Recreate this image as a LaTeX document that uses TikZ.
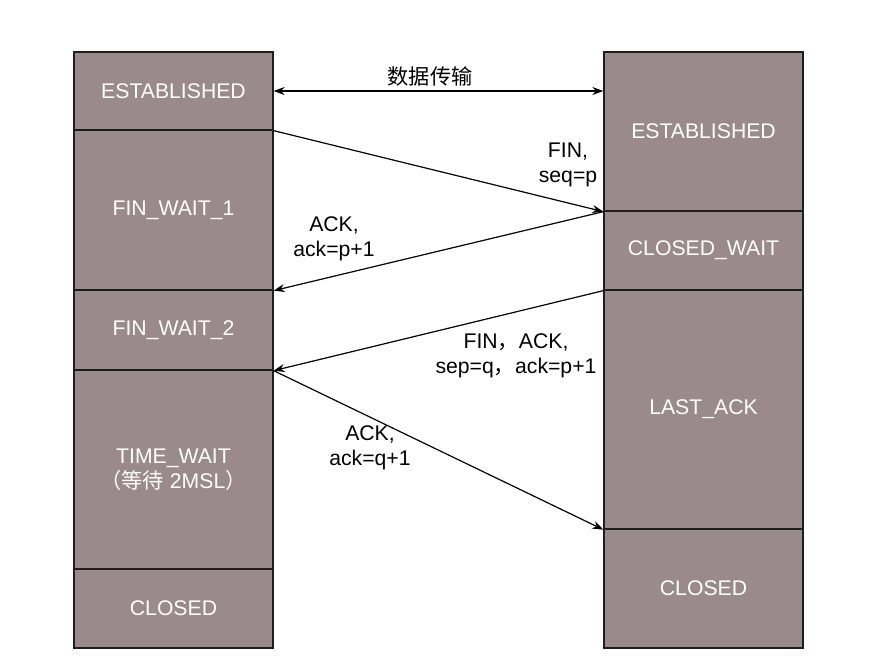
\documentclass[tikz,border=0pt]{standalone}
\usepackage{fontspec}
\setmainfont{Liberation Sans}
\newfontfamily\cjk{Noto Sans CJK SC}
\usetikzlibrary{arrows.meta}
\definecolor{boxfill}{RGB}{154,138,142}
\definecolor{boxline}{RGB}{30,30,30}
\tikzset{
  statebox/.style={draw=boxline, line width=1.3pt, fill=boxfill, text=white,
    minimum width=199pt, inner sep=0pt, align=center,
    font=\fontsize{21.2}{25}\selectfont},
  msg/.style={draw=black, line width=1.2pt, -{Stealth[length=11pt,width=8pt]}},
  lbl/.style={align=center, inner sep=0pt, font=\fontsize{21.2}{25}\selectfont}
}
\begin{document}
\begin{tikzpicture}[x=1pt,y=-1pt]
\useasboundingbox (0,0) rectangle (880,664);
% left column
\node[statebox, minimum height=78pt]  (lE)  at (173.5,91)    {ESTABLISHED};
\node[statebox, minimum height=160pt] (lF1) at (173.5,210)   {FIN\_WAIT\_1};
\node[statebox, minimum height=80pt]  (lF2) at (173.5,330)   {FIN\_WAIT\_2};
\node[statebox, minimum height=199pt] (lTW) at (173.5,469.5) {TIME\_WAIT\\{\cjk （等待} 2MSL{\cjk ）}};
\node[statebox, minimum height=79pt]  (lC)  at (173.5,608.5) {CLOSED};
% right column
\node[statebox, minimum height=159pt] (rE)  at (703.5,131.5) {ESTABLISHED};
\node[statebox, minimum height=79pt]  (rCW) at (703.5,250.5) {CLOSED\_WAIT};
\node[statebox, minimum height=239pt] (rLA) at (703.5,409.5) {LAST\_ACK};
\node[statebox, minimum height=119pt] (rC)  at (703.5,588.5) {CLOSED};
% messages
\draw[msg, {Stealth[length=11pt,width=8pt]}-{Stealth[length=11pt,width=8pt]}] (lE.east) -- (rE.west |- lE.east);
\node[lbl] (tdata) at (430,76) {\cjk 数据传输};
\draw[msg] (lE.south east) -- (rE.south west);
\node[lbl] (tfin) at (568,165) {FIN,\\seq=p};
\draw[msg] (rE.south west) -- (lF1.south east);
\node[lbl] (tack1) at (334,239) {ACK,\\ack=p+1};
\draw[msg] (rCW.south west) -- (lF2.south east);
\node[lbl] (tfinack) at (516,356) {FIN{\cjk ，}ACK,\\sep=q{\cjk ，}ack=p+1};
\draw[msg] (lF2.south east) -- (rLA.south west);
\node[lbl] (tack2) at (370,448) {ACK,\\ack=q+1};
\end{tikzpicture}
\end{document}
